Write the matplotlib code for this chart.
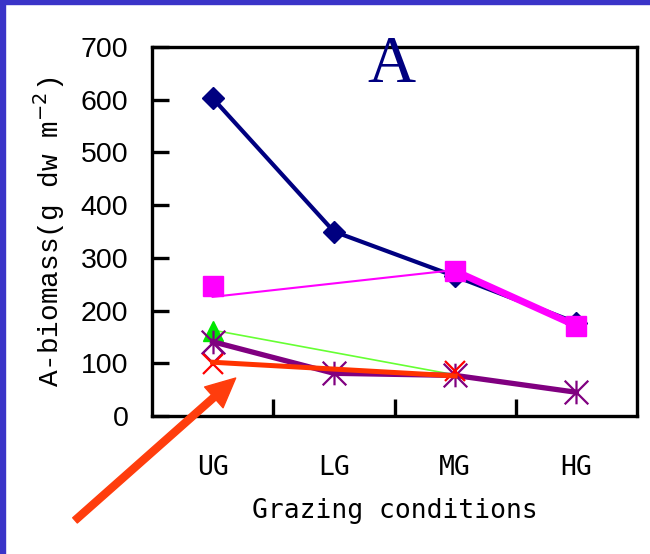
import numpy as np
import matplotlib
matplotlib.use("Agg")
import matplotlib.pyplot as plt
from matplotlib.path import Path
from matplotlib.patches import Rectangle

# ---- data ----
categories = ["UG", "LG", "MG", "HG"]
navy_vals = [603, 350, 265, 177]
magenta_pts = [247, np.nan, 275, 171]
magenta_thin_line = [226, np.nan, 277, np.nan]
magenta_thick_line = [np.nan, np.nan, 275, 171]
green_pts = [162, np.nan, np.nan, np.nan]
green_line = [163, np.nan, 78, np.nan]
purple_vals = [141, 81, 77, 45]
purple_diamond = [120, np.nan, np.nan, np.nan]
red_pts = [98, np.nan, 86, np.nan]
orange_line = [102, np.nan, 76, np.nan]
y_ticks = [0, 100, 200, 300, 400, 500, 600, 700]

fig = plt.figure(figsize=(6.5, 5.54), dpi=100)
fig.patch.set_facecolor("white")
ax = fig.add_axes([152/650, 1-416/554, 485/650, 369/554])

x = np.arange(1, len(categories) + 1)

def seg(vals):
    v = np.array(vals, dtype=float)
    m = ~np.isnan(v)
    return x[m], v[m]

asterisk = Path([(0, -1), (0, 1), (-1, -1), (1, 1), (-1, 1), (1, -1)],
                [Path.MOVETO, Path.LINETO, Path.MOVETO, Path.LINETO, Path.MOVETO, Path.LINETO])

# navy diamonds
ax.plot(x, navy_vals, color="#000080", lw=3, marker="D", ms=11, zorder=3)
# magenta
xs, ys = seg(magenta_thin_line)
ax.plot(xs, ys, color="#ff00ff", lw=1.5, zorder=4)
xs, ys = seg(magenta_thick_line)
ax.plot(xs, ys, color="#ff00ff", lw=5, zorder=4)
xs, ys = seg(magenta_pts)
ax.plot(xs, ys, ls="none", color="#ff00ff", marker="s", ms=14, zorder=5)
# green
xs, ys = seg(green_line)
ax.plot(xs, ys, color="#66ff33", lw=1.2, zorder=3)
xs, ys = seg(green_pts)
ax.plot(xs, ys, ls="none", color="#00e600", marker="^", ms=14, zorder=3)
# purple
xs, ys = seg(purple_diamond)
ax.plot(xs, ys, ls="none", marker="D", ms=10, mfc="none", mec="#800080", mew=1.5, zorder=3)
ax.plot(x, purple_vals, color="#800080", lw=3.8, marker=asterisk, ms=17, mew=1.6, zorder=4)
# red / orange
xs, ys = seg(red_pts)
ax.plot(xs, ys, ls="none", marker="x", ms=15, mew=1.6, color="#ff0000", zorder=5)
xs, ys = seg(orange_line)
ax.plot(xs, ys, color="#ff3300", lw=3.6, zorder=6)

# arrow
ax.annotate("", xy=(1.19, 72), xytext=(-0.135, -198), xycoords="data", textcoords="data",
            annotation_clip=False,
            arrowprops=dict(arrowstyle="simple,head_length=1.05,head_width=1.0,tail_width=0.25",
                            mutation_scale=20, color="#ff3d0d", shrinkA=0, shrinkB=0),
            zorder=7)

ax.set_xlim(0.5, 4.5)
ax.set_ylim(0, 700)
ax.set_yticks(y_ticks)
ax.set_yticklabels([str(t) for t in y_ticks], fontfamily="Liberation Sans", fontsize=20.5)
ax.set_xticks(x)
ax.set_xticklabels(categories, fontfamily="DejaVu Sans Mono", fontsize=19)
ax.set_xticks([1.5, 2.5, 3.5], minor=True)
ax.tick_params(axis="x", which="major", length=0, pad=28)
ax.tick_params(axis="x", which="minor", direction="in", length=12, width=2.4)
ax.tick_params(axis="y", which="major", direction="in", length=12, width=2.4, pad=17)
for s in ax.spines.values():
    s.set_linewidth(2.4)

ax.set_xlabel("Grazing conditions", fontfamily="DejaVu Sans Mono", fontsize=19, labelpad=12)
ax.set_ylabel("A-biomass(g dw m$^{-2}$)", fontfamily="Liberation Mono", fontsize=20)
ax.yaxis.set_label_coords(-0.176, 0.5)

fig.text(391/650, 1-82/554, "A", fontfamily="Liberation Serif", fontsize=48, color="#000080",
         ha="center", va="baseline")

# blue frame
fig.patches.append(Rectangle((0, 0), 5/650, 1, transform=fig.transFigure, color="#3a34c8", zorder=10))
fig.patches.append(Rectangle((0, 1-4/554), 1, 4/554, transform=fig.transFigure, color="#3a34c8", zorder=10))

fig.savefig("out.png", dpi=100, facecolor="white")
